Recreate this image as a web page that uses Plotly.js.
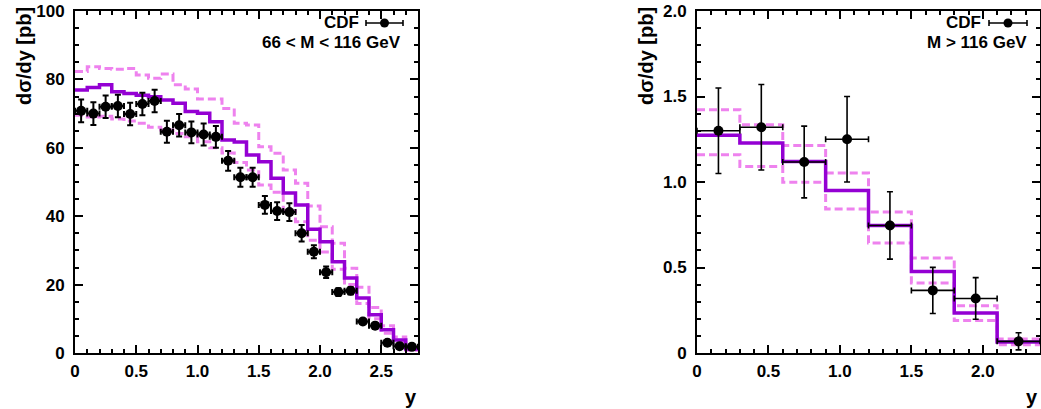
<!DOCTYPE html>
<html>
<head>
<meta charset="utf-8">
<script src="https://cdn.plot.ly/plotly-3.0.1.min.js"></script>
<style>html,body{margin:0;padding:0;background:#fff;}#chart{width:1041px;height:409px;}</style>
</head>
<body>
<div id="chart"></div>
<script>
// ---- Left panel: 66 < M < 116 GeV ----
const leftEdges = [0,0.1,0.2,0.3,0.4,0.5,0.6,0.7,0.8,0.9,1.0,1.1,1.2,1.3,1.4,1.5,1.6,1.7,1.8,1.9,2.0,2.1,2.2,2.3,2.4,2.5,2.6,2.7,2.8];
const leftTheory = [76.9,77.6,78.4,76.4,75.9,75.4,74.9,74.0,73.0,70.6,70.1,67.6,62.3,61.7,57.9,55.9,51.1,46.8,43.3,36.2,32.5,26.7,21.9,16.1,11.2,6.8,3.8,1.2];
const leftUpper  = [82.3,83.7,83.2,83.0,83.2,81.3,80.3,81.6,78.4,77.2,74.3,74.3,71.5,67.2,66.7,60.3,58.4,53.5,49.6,43.0,36.9,32.1,24.8,19.2,13.3,8.0,4.7,2.0];
const leftLower  = [69.5,69.0,69.2,68.4,67.8,67.2,66.0,65.2,64.2,63.2,61.8,60.0,58.5,55.7,53.5,49.1,47.0,41.6,38.4,33.0,29.5,24.5,20.0,14.5,10.0,5.8,3.0,0.8];
const leftCenters = [0.05,0.15,0.25,0.35,0.45,0.55,0.65,0.75,0.85,0.95,1.05,1.15,1.25,1.35,1.45,1.55,1.65,1.75,1.85,1.95,2.05,2.15,2.25,2.35,2.45,2.55,2.65,2.75];
const leftData = [70.8,70.0,72.0,72.2,69.9,72.8,73.7,64.7,66.6,64.5,63.9,63.2,56.2,51.4,51.4,43.3,41.5,41.2,35.0,29.6,23.6,17.8,18.2,9.2,8.0,3.0,2.0,1.8];
const leftErr  = [3.3,3.3,3.3,3.3,3.3,3.3,3.3,3.2,3.3,3.2,3.2,3.2,2.9,2.8,2.8,2.6,2.6,2.6,2.4,1.9,1.7,1.1,1.1,0.7,0.6,0.4,0.3,0.3];
const leftXErr = [0.05,0.05,0.05,0.05,0.05,0.05,0.05,0.05,0.05,0.05,0.05,0.05,0.05,0.05,0.05,0.05,0.05,0.05,0.05,0.05,0.05,0.05,0.05,0.05,0.05,0.05,0.05,0.05];
const leftXTicks = [0,0.5,1.0,1.5,2.0,2.5];
const leftXLabels = ["0","0.5","1.0","1.5","2.0","2.5"];
const leftYTicks = [0,20,40,60,80,100];
const leftYLabels = ["0","20","40","60","80","100"];

// ---- Right panel: M > 116 GeV ----
const rightEdges = [0,0.3,0.6,0.9,1.2,1.5,1.8,2.1,2.4];
const rightTheory = [1.273,1.228,1.120,0.951,0.746,0.477,0.234,0.064];
const rightUpper  = [1.423,1.335,1.214,1.053,0.825,0.556,0.277,0.082];
const rightLower  = [1.160,1.091,0.998,0.842,0.643,0.409,0.190,0.048];
const rightCenters = [0.15,0.45,0.75,1.05,1.35,1.65,1.95,2.25];
const rightData = [1.30,1.32,1.117,1.25,0.746,0.366,0.319,0.068];
const rightErr  = [0.25,0.25,0.21,0.25,0.197,0.135,0.122,0.05];
const rightXErr = [0.15,0.15,0.15,0.15,0.15,0.15,0.15,0.15];
const rightXTicks = [0,0.5,1.0,1.5,2.0];
const rightXLabels = ["0","0.5","1.0","1.5","2.0"];
const rightYTicks = [0,0.5,1.0,1.5,2.0];
const rightYLabels = ["0","0.5","1.0","1.5","2.0"];

const W = 1041, H = 409;
const FONT = "Liberation Sans, Arial, Helvetica, sans-serif";
const SOLID = "rgb(148,0,211)";
const DASH = "rgb(238,130,238)";

function stepY(v){ return v.concat([v[v.length-1]]); }
function histTrace(edges, vals, color, width, dash, xa, ya){
  return {x: edges, y: stepY(vals), type:"scatter", mode:"lines",
    line:{shape:"hv", color:color, width:width, dash:dash},
    xaxis:xa, yaxis:ya, showlegend:false, hoverinfo:"skip"};
}
function dataTrace(xs, ys, ey, ex, xa, ya, thick){
  return {x: xs, y: ys, type:"scatter", mode:"markers",
    marker:{color:"black", size:10},
    error_y:{type:"data", array:ey, visible:true, color:"black", thickness:thick, width:3},
    error_x:{type:"data", array:ex, visible:true, color:"black", thickness:thick, width:3},
    xaxis:xa, yaxis:ya, showlegend:false, hoverinfo:"skip"};
}

const traces = [
  histTrace(leftEdges, leftUpper, DASH, 3, "8px,4px", "x", "y"),
  histTrace(leftEdges, leftLower, DASH, 3, "8px,4px", "x", "y"),
  histTrace(leftEdges, leftTheory, SOLID, 3.5, "solid", "x", "y"),
  dataTrace(leftCenters, leftData, leftErr, leftXErr, "x", "y", 2),
  histTrace(rightEdges, rightUpper, DASH, 3, "8px,4px", "x2", "y2"),
  histTrace(rightEdges, rightLower, DASH, 3, "8px,4px", "x2", "y2"),
  histTrace(rightEdges, rightTheory, SOLID, 3.5, "solid", "x2", "y2"),
  dataTrace(rightCenters, rightData, rightErr, rightXErr, "x2", "y2", 1.6)
];

const tickFont = {family:FONT, size:17, color:"black", weight:"bold"};
function axis(domain, range, tv, tt, minorD, anchor){
  return {domain:domain, range:range, anchor:anchor, tickmode:"array", tickvals:tv, ticktext:tt,
    ticks:"inside", ticklen:8, tickwidth:2, tickcolor:"black",
    minor:{dtick:minorD, ticks:"inside", ticklen:4, tickwidth:2, tickcolor:"black", showgrid:false},
    showline:true, linecolor:"black", linewidth:2, mirror:"allticks",
    showgrid:false, zeroline:false, tickfont:tickFont, fixedrange:true};
}
const yDom = [1-353/H, 1-11/H];
const layout = {
  width:W, height:H, margin:{l:0,r:0,t:0,b:0,pad:0},
  paper_bgcolor:"white", plot_bgcolor:"white", showlegend:false,
  xaxis: Object.assign(axis([75/W, 418/W], [0,2.8], leftXTicks, leftXLabels, 0.1, "y"), {ticklabelstandoff:2}),
  yaxis: Object.assign(axis(yDom, [0,100], leftYTicks, leftYLabels, 5, "x"), {ticklabelstandoff:5}),
  xaxis2: Object.assign(axis([697/W, 1040/W], [0,2.4], rightXTicks, rightXLabels, 0.1, "y2"), {ticklabelstandoff:2}),
  yaxis2: Object.assign(axis(yDom, [0,2.0], rightYTicks, rightYLabels, 0.1, "x2"), {ticklabelstandoff:5}),
  annotations: [],
  shapes: []
};
const txtFont = {family:FONT, size:17, color:"black", weight:"bold"};
const titleFont = {family:FONT, size:20, color:"black", weight:"bold"};
function ann(text, px, py, xanchor, yanchor, font, angle){
  layout.annotations.push({text:text, xref:"paper", yref:"paper", x:px/W, y:1-py/H,
    xanchor:xanchor, yanchor:yanchor, showarrow:false, font:font, textangle:angle||0});
}
ann("dσ/dy [pb]", 24, 5, "center", "top", titleFont, -90);
ann("dσ/dy [pb]", 646, 5, "center", "top", titleFont, -90);
ann("y", 419, 397, "right", "middle", titleFont);
ann("y", 1040, 397, "right", "middle", titleFont);
ann("CDF", 361, 23, "right", "middle", txtFont);
ann("66 &lt; M &lt; 116 GeV", 403, 43, "right", "middle", txtFont);
ann("CDF", 983, 23, "right", "middle", txtFont);
ann("M &gt; 116 GeV", 1029, 43, "right", "middle", txtFont);

function legendSymbol(x0, x1, yc){
  const y = 1-yc/H;
  layout.shapes.push({type:"line", xref:"paper", yref:"paper", x0:x0/W, x1:x1/W, y0:y, y1:y, line:{color:"black", width:1.6}});
  [x0, x1].forEach(function(xx){
    layout.shapes.push({type:"line", xref:"paper", yref:"paper", x0:xx/W, x1:xx/W, y0:y-3/H, y1:y+3/H, line:{color:"black", width:1.6}});
  });
  const xc = (x0+x1)/2;
  layout.shapes.push({type:"circle", xref:"paper", yref:"paper", x0:(xc-4.5)/W, x1:(xc+4.5)/W, y0:y-4.5/H, y1:y+4.5/H, fillcolor:"black", line:{color:"black", width:0}});
}
legendSymbol(366, 403, 23);
legendSymbol(989, 1027, 23);

Plotly.newPlot("chart", traces, layout, {displayModeBar:false, staticPlot:true});
</script>
</body>
</html>
